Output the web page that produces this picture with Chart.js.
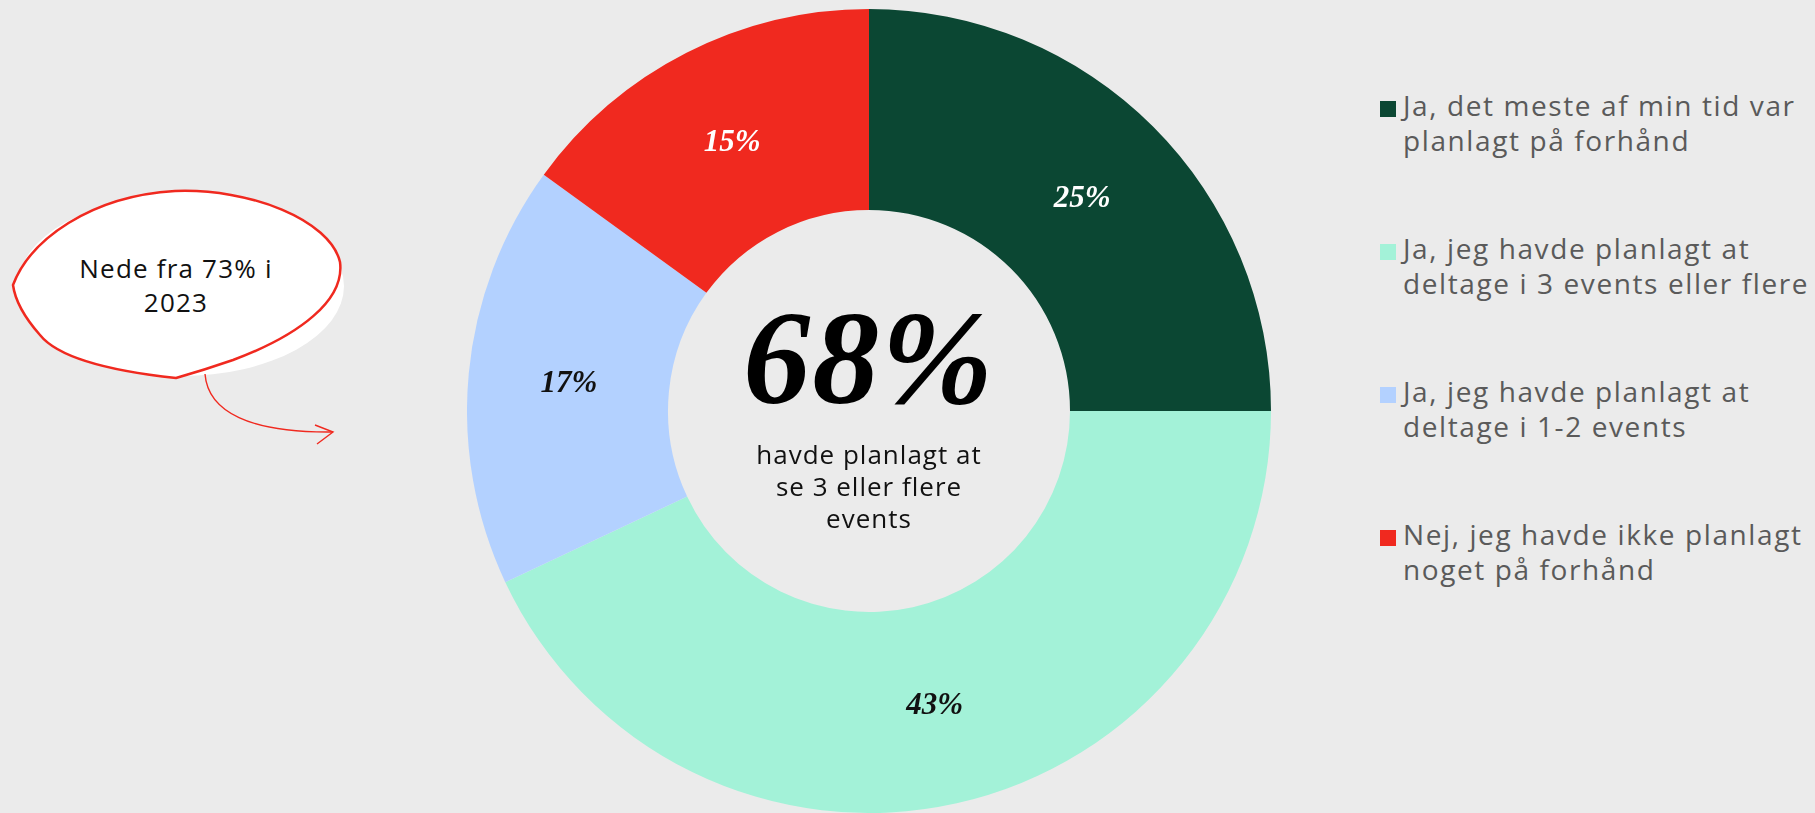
<!DOCTYPE html>
<html>
<head>
<meta charset="utf-8">
<script src="https://cdn.jsdelivr.net/npm/chart.js@4/dist/chart.umd.min.js"></script>
<style>
  html, body { margin: 0; padding: 0; background: #ebebeb; }
  body { width: 1815px; height: 813px; position: relative; overflow: hidden; font-family: 'Open Sans', sans-serif; }
  #chart { position: absolute; left: 467px; top: 9px; }
  #legend { position: absolute; left: 1380px; top: 0; }
  .item { position: absolute; left: 0; width: 440px; font-size: 28px; line-height: 35px; color: #5a5a5a; letter-spacing: 1.6px; padding-left: 23px; white-space: nowrap; }
  .item i { position: absolute; left: 0; top: 13px; width: 16px; height: 16px; }
  #bubble { position: absolute; left: 0; top: 170px; }
  #bubbleText { position: absolute; left: 26px; top: 251px; width: 300px; text-align: center; font-size: 26px; line-height: 34px; color: #111; letter-spacing: 1.2px; }
</style>
</head>
<body>
<svg id="bubble" width="360" height="280" viewBox="0 170 360 280">
  <ellipse cx="181" cy="286" rx="163" ry="90" fill="#ffffff"/>
  <path d="M13,285 C30,240 90,196 175,191 C250,188 330,220 340,262 C345,300 300,335 233,360 C210,368 190,374 176,378 C120,372 60,360 40,335 C25,318 15,300 13,285 Z"
        fill="#ffffff" stroke="#f0291f" stroke-width="2.5" stroke-linejoin="round"/>
  <path d="M205,374 C208,412 250,433 333,432" fill="none" stroke="#f0291f" stroke-width="1.4"/>
  <path d="M315,425 L333,432 L317,444" fill="none" stroke="#f0291f" stroke-width="1.4"/>
</svg>
<div id="bubbleText">Nede fra 73% i<br>2023</div>
<canvas id="chart" width="804" height="804"></canvas>
<div id="legend"></div>
<script>
const categories = [
  'Ja, det meste af min tid var planlagt på forhånd',
  'Ja, jeg havde planlagt at deltage i 3 events eller flere',
  'Ja, jeg havde planlagt at deltage i 1-2 events',
  'Nej, jeg havde ikke planlagt noget på forhånd'
]
const legendLines = [
  ['Ja, det meste af min tid var', 'planlagt på forhånd'],
  ['Ja, jeg havde planlagt at', 'deltage i 3 events eller flere'],
  ['Ja, jeg havde planlagt at', 'deltage i 1-2 events'],
  ['Nej, jeg havde ikke planlagt', 'noget på forhånd']
]
const shares = [25, 43, 17, 15]
const colors = ['#0b4733', '#a3f2d8', '#b3d1ff', '#f0291f']
const labelColors = ['#ffffff', '#111111', '#111111', '#ffffff']
const centerValue = '68%'
const centerLines = ['havde planlagt at', 'se 3 eller flere', 'events']

const $legend = document.getElementById('legend')
legendLines.forEach((lines, i) => {
    const div = document.createElement('div')
    div.className = 'item'
    div.style.top = (88 + i * 143) + 'px'
    div.innerHTML = `<i style="background:${colors[i]}"></i>${lines.join('<br>')}`
    $legend.appendChild(div)
})

const sliceLabels = {
    id: 'sliceLabels',
    afterDatasetsDraw(chart) {
        const ctx = chart.ctx
        const meta = chart.getDatasetMeta(0)
        ctx.save()
        ctx.font = 'italic bold 31px "Liberation Serif", serif'
        ctx.textAlign = 'center'
        ctx.textBaseline = 'middle'
        meta.data.forEach((arc, i) => {
            const p = arc.tooltipPosition()
            ctx.fillStyle = labelColors[i]
            ctx.fillText(shares[i] + '%', p.x, p.y + 1)
        })
        ctx.restore()
    }
}

const centerText = {
    id: 'centerText',
    afterDraw(chart) {
        const ctx = chart.ctx
        const meta = chart.getDatasetMeta(0)
        const { x, y } = meta.data[0]
        ctx.save()
        ctx.textAlign = 'center'
        ctx.fillStyle = '#000'
        ctx.font = 'italic bold 134px "Liberation Serif", serif'
        ctx.letterSpacing = '2px'
        ctx.fillText(centerValue, x, y - 8)
        ctx.fillStyle = '#111'
        ctx.font = '26px "Open Sans", sans-serif'
        ctx.letterSpacing = '1px'
        centerLines.forEach((line, i) => {
            ctx.fillText(line, x, y + 53 + i * 32)
        })
        ctx.restore()
    }
}

const chart = new Chart(document.getElementById('chart'), {
    type: 'doughnut',
    data: {
        labels: categories,
        datasets: [{
            data: shares,
            backgroundColor: colors,
            borderWidth: 0,
            hoverOffset: 0
        }]
    },
    options: {
        responsive: false,
        animation: false,
        cutout: '50%',
        layout: { padding: 0 },
        plugins: {
            legend: { display: false },
            tooltip: { enabled: false }
        }
    },
    plugins: [sliceLabels, centerText]
})
</script>
</body>
</html>
